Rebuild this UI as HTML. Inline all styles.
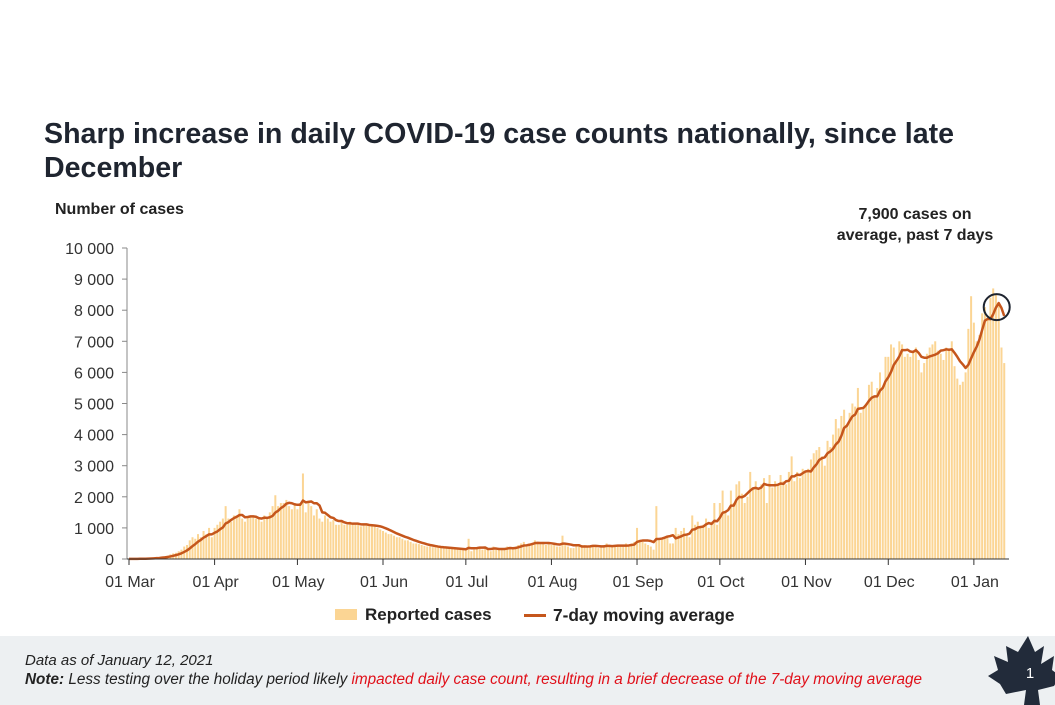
<!DOCTYPE html>
<html><head><meta charset="utf-8">
<style>
body{margin:0;width:1055px;height:705px;background:#fff;font-family:"Liberation Sans",Arial,sans-serif;position:relative;overflow:hidden}
.t{position:absolute;color:#222}
</style></head><body>
<div class="t" style="left:44px;top:117px;font-size:28.6px;font-weight:bold;line-height:34px;color:#1f2530;white-space:nowrap">Sharp increase in daily COVID-19 case counts nationally, since late<br>December</div>
<div class="t" style="left:55px;top:201px;font-size:16px;font-weight:bold">Number of cases</div>
<div class="t" style="left:815px;top:204px;width:200px;text-align:center;font-size:16px;font-weight:bold;line-height:21px">7,900 cases on<br>average, past 7 days</div>
<svg id="chart" width="1055" height="640" style="position:absolute;left:0;top:0"></svg>
<div style="position:absolute;left:335px;top:605px;font-size:17px;font-weight:bold;color:#222">
 <span style="position:absolute;left:0;top:4px;width:22px;height:11px;background:#fbd594"></span>
 <span style="position:absolute;left:30px;top:0;white-space:nowrap">Reported cases</span>
 <span style="position:absolute;left:189px;top:9px;width:22px;height:3px;background:#c5561c"></span>
 <span style="position:absolute;left:218px;top:0;white-space:nowrap;font-size:17.3px">7-day moving average</span>
</div>
<div style="position:absolute;left:0;top:636px;width:1055px;height:69px;background:#edf0f2">
 <div style="position:absolute;left:25px;top:16px;font-size:15px;font-style:italic;color:#222">Data as of January 12, 2021</div>
 <div style="position:absolute;left:25px;top:35px;font-size:15.3px;font-style:italic;color:#222;white-space:nowrap"><b>Note:</b> Less testing over the holiday period likely <span style="color:#e0101a">impacted daily case count, resulting in a brief decrease of the 7-day moving average</span></div>
 <svg width="75" height="69" style="position:absolute;left:982px;top:0">
  <polygon fill="#222b3a" points="46,0 53,16 62,10 59,28 72,20 70,34 78,40 72,50 56,54 58,69 42,69 44,54 24,58 18,48 6,40 16,34 12,20 26,26 24,10 36,16"/>
  <text x="48" y="42" fill="#fff" font-size="15" text-anchor="middle" font-family="Liberation Sans">1</text>
 </svg>
</div>
<script>
const mar=[4,3,6,8,10,15,20,25,30,40,50,60,80,90,110,150,180,200,250,300,400,450,600,700,650,800,700,900,800,1000,700];
const apr=[1000,1100,1200,1300,1700,1300,1200,1400,1400,1600,1300,1200,1350,1350,1400,1300,1300,1200,1400,1300,1500,1700,2050,1700,1800,1800,1900,1700,1600,1800];
const may=[1600,1800,2750,1500,1800,1700,1400,1600,1300,1200,1400,1300,1200,1250,1100,1100,1200,1100,1100,1200,1150,1100,1100,1050,1100,1100,1050,1100,1050,1000,950];
const jun=[900,850,800,800,750,700,700,650,600,600,550,500,500,480,450,420,400,400,380,380,370,360,350,350,340,330,320,310,300,300];
const jul=[300,650,250,300,350,400,300,350,300,250,400,350,300,300,350,400,380,350,400,450,500,550,450,500,520,600,500,480,550,450,500];
const aug=[450,500,400,400,750,450,400,350,350,400,400,450,450,400,400,450,400,350,400,450,500,400,400,450,400,400,450,500,450,500,550];
const sep=[1000,600,550,500,450,400,300,1700,600,650,700,700,500,500,1000,800,900,1000,800,700,1400,1100,1200,1000,1100,1300,1000,1200,1800,1100];
const oct=[1800,2200,1500,1400,2200,1800,2400,2500,2100,1800,2000,2800,2300,2500,2300,2400,2600,1800,2700,2300,2500,2400,2700,2500,2400,2800,3300,2500,2800,2600,2900];
const nov=[2800,2900,3200,3400,3500,3600,3300,3000,3800,3600,4000,4500,4200,4600,4800,4300,4700,5000,4900,5500,4700,4900,5000,5600,5700,5200,5500,6000,5500,6500];
const dec=[6500,6900,6800,6400,7000,6900,6500,6600,6500,6700,6800,6400,6000,6300,6600,6800,6900,7000,6700,6600,6400,6800,6700,7000,6200,5800,5600,5700,6000,7400,8450];
const jan=[7600,7000,7200,7900,8100,7800,8400,8700,8500,8200,6800,6300];
const daily=[].concat(mar,apr,may,jun,jul,aug,sep,oct,nov,dec,jan);
const yTicks=[0,1000,2000,3000,4000,5000,6000,7000,8000,9000,10000];
const yTickLabels=["0","1 000","2 000","3 000","4 000","5 000","6 000","7 000","8 000","9 000","10 000"];
const xTickDays=[0,31,61,92,122,153,184,214,245,275,306];
const xTickLabels=["01 Mar","01 Apr","01 May","01 Jun","01 Jul","01 Aug","01 Sep","01 Oct","01 Nov","01 Dec","01 Jan"];
const NS="http://www.w3.org/2000/svg";
const svg=document.getElementById('chart');
const X=d=>129+d*2.761;
const Y=v=>559-v*0.0311;
function mk(t,a){const e=document.createElementNS(NS,t);for(const k in a)e.setAttribute(k,a[k]);svg.appendChild(e);return e;}
daily.forEach((v,i)=>{
 const r=mk('rect',{x:X(i)-1,y:Y(v),width:2,height:559-Y(v),fill:'#fbd594'});
 
 
});
const avg=daily.map((v,i)=>{const s=daily.slice(Math.max(0,i-6),i+1);return s.reduce((a,b)=>a+b,0)/s.length;});
const pl=mk('polyline',{points:avg.map((v,i)=>X(i)+','+Y(v)).join(' '),fill:'none',stroke:'#c5561c','stroke-width':2.5,'stroke-linejoin':'round'});


const al=mk('line',{x1:127,y1:248,x2:127,y2:559,stroke:'#888'});


const xl=mk('line',{x1:127,y1:559,x2:1009,y2:559,stroke:'#333'});


yTicks.forEach((v,i)=>{
 mk('line',{x1:122,y1:Y(v),x2:127,y2:Y(v),stroke:'#888'});
 const t=mk('text',{x:114,y:Y(v)+6,'text-anchor':'end','font-size':16,fill:'#333','font-family':'Liberation Sans'});
 t.textContent=yTickLabels[i];
 
 
});
xTickDays.forEach((d,i)=>{
 mk('line',{x1:X(d),y1:559,x2:X(d),y2:565,stroke:'#333'});
 const t=mk('text',{x:X(d)+1,y:587,'text-anchor':'middle','font-size':16,fill:'#333','font-family':'Liberation Sans'});
 t.textContent=xTickLabels[i];
 
 
});
let li=0;avg.forEach((v,i)=>{if(v>avg[li])li=i;});
const c=mk('circle',{cx:X(li)-2,cy:Y(avg[li])+4,r:13,fill:'none',stroke:'#1f2530','stroke-width':2});


</script>
</body></html>
